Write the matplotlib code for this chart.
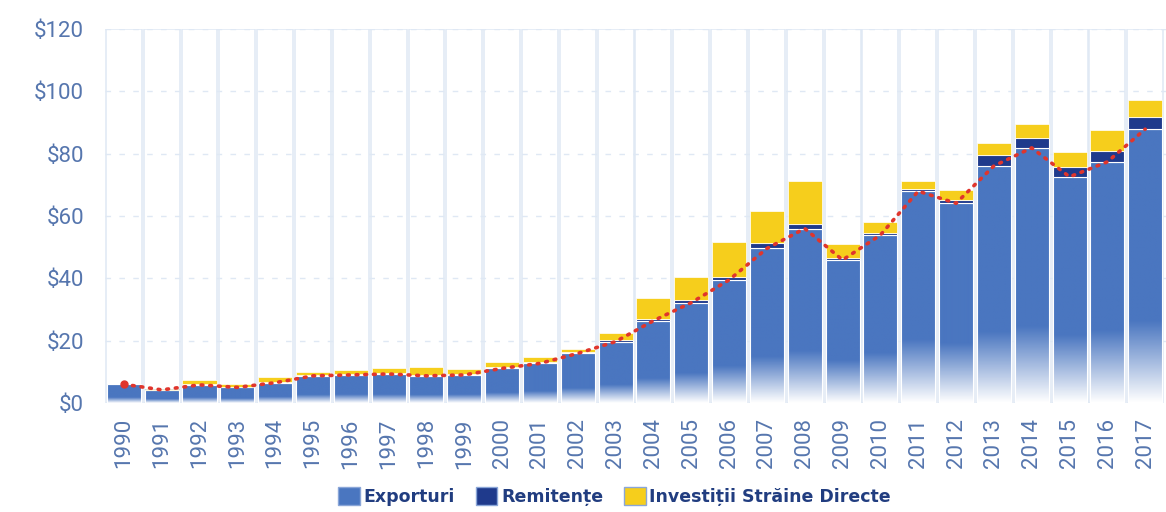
import numpy as np
import matplotlib.pyplot as plt
from matplotlib.colors import LinearSegmentedColormap
from matplotlib.patches import Patch

plt.switch_backend("Agg")

years = list(range(1990, 2018))
exporturi = [6.0, 4.2, 5.8, 5.0, 6.5, 8.7, 9.0, 9.3, 8.7, 9.0,
             11.1, 12.7, 15.9, 19.7, 26.4, 32.2, 39.5, 49.6, 56.0, 45.9,
             53.9, 68.0, 64.1, 76.1, 81.9, 72.6, 77.4, 87.9]
remitente = [0.1, 0.1, 0.2, 0.2, 0.2, 0.2, 0.2, 0.2, 0.2, 0.2,
             0.3, 0.3, 0.4, 0.4, 0.6, 0.8, 0.8, 1.6, 1.4, 0.5,
             0.7, 0.6, 1.0, 3.5, 3.3, 3.2, 3.5, 3.8]
isd = [0.1, 0.1, 1.4, 1.0, 1.5, 1.1, 1.4, 1.6, 2.8, 1.7,
       1.9, 1.7, 1.0, 2.5, 6.6, 7.3, 11.5, 10.4, 13.9, 4.6,
       3.6, 2.7, 3.2, 4.0, 4.3, 4.8, 6.7, 5.5]
yticks = [0, 20, 40, 60, 80, 100, 120]

BLUE = "#4a76c0"
NAVY = "#1f3a8c"
YELLOW = "#f6ce1c"
RED = "#e0352c"
TICK = "#5676ae"
LEGEND_TXT = "#213d80"

x = np.arange(len(years))
w = 0.9
exp_arr = np.array(exporturi)
rem_arr = np.array(remitente)
isd_arr = np.array(isd)

fig = plt.figure(figsize=(11.66, 5.12), dpi=100)
ax = fig.add_axes([0.090, 0.213, 0.91, 0.730])

# pale column slots behind every year
ax.bar(x, [120] * len(x), width=0.95, color="white", edgecolor="#dfe8f4",
       linewidth=1.1, zorder=0)
for v in yticks[1:]:
    ax.axhline(v, color="#dfe8f4", lw=1.0, ls=(0, (4, 6)), zorder=0.5)

# export bars fading to white at the base
fade = LinearSegmentedColormap.from_list("fade", ["#ffffff", BLUE])
grad = np.clip(np.linspace(0, 1, 200) / 0.3, 0, 1).reshape(-1, 1)
for xi, h in zip(x, exp_arr):
    ax.imshow(grad, cmap=fade, vmin=0, vmax=1, origin="lower", aspect="auto",
              extent=[xi - w / 2, xi + w / 2, 0, h], zorder=2,
              interpolation="bilinear")
ax.bar(x, exp_arr, width=w, color="none", edgecolor="white", linewidth=0.8,
       zorder=2.5)
ax.bar(x, rem_arr, width=w, bottom=exp_arr, color=NAVY, edgecolor="white",
       linewidth=0.8, zorder=3)
ax.bar(x, isd_arr, width=w, bottom=exp_arr + rem_arr, color=YELLOW,
       edgecolor="white", linewidth=0.5, zorder=3)

# export trend line
ax.plot(x, exp_arr, color=RED, lw=2.6, ls=(0, (0.5, 1.9)),
        dash_capstyle="round", zorder=4)
ax.plot(x[0], exp_arr[0], "o", color=RED, ms=5, zorder=4)

ax.set_xlim(-0.5, len(x) - 0.45)
ax.set_ylim(0, 120)
ax.set_yticks(yticks)
ax.set_yticklabels([f"${v}" for v in yticks])
ax.set_xticks(x)
ax.set_xticklabels([str(y) for y in years], rotation=90)
ax.tick_params(axis="both", length=0, colors=TICK, labelsize=16)
ax.tick_params(axis="y", pad=15)
ax.tick_params(axis="x", pad=11)
for lbl in ax.get_xticklabels() + ax.get_yticklabels():
    lbl.set_family(["Roboto", "DejaVu Sans"])
for s in ax.spines.values():
    s.set_visible(False)

handles = [
    Patch(facecolor=BLUE, edgecolor="#8aa6d8", label="Exporturi"),
    Patch(facecolor=NAVY, edgecolor="#8aa6d8", label="Remitențe"),
    Patch(facecolor=YELLOW, edgecolor="#8aa6d8", label="Investiții Străine Directe"),
]
leg = fig.legend(handles=handles, loc="center", bbox_to_anchor=(0.527, 0.03),
                 ncol=3, frameon=False, handlelength=1.25, handleheight=1.25,
                 handletextpad=0.2, columnspacing=1.2,
                 prop={"weight": "bold", "size": 12.5})
for t in leg.get_texts():
    t.set_color(LEGEND_TXT)

fig.savefig("out.png", dpi=100)
